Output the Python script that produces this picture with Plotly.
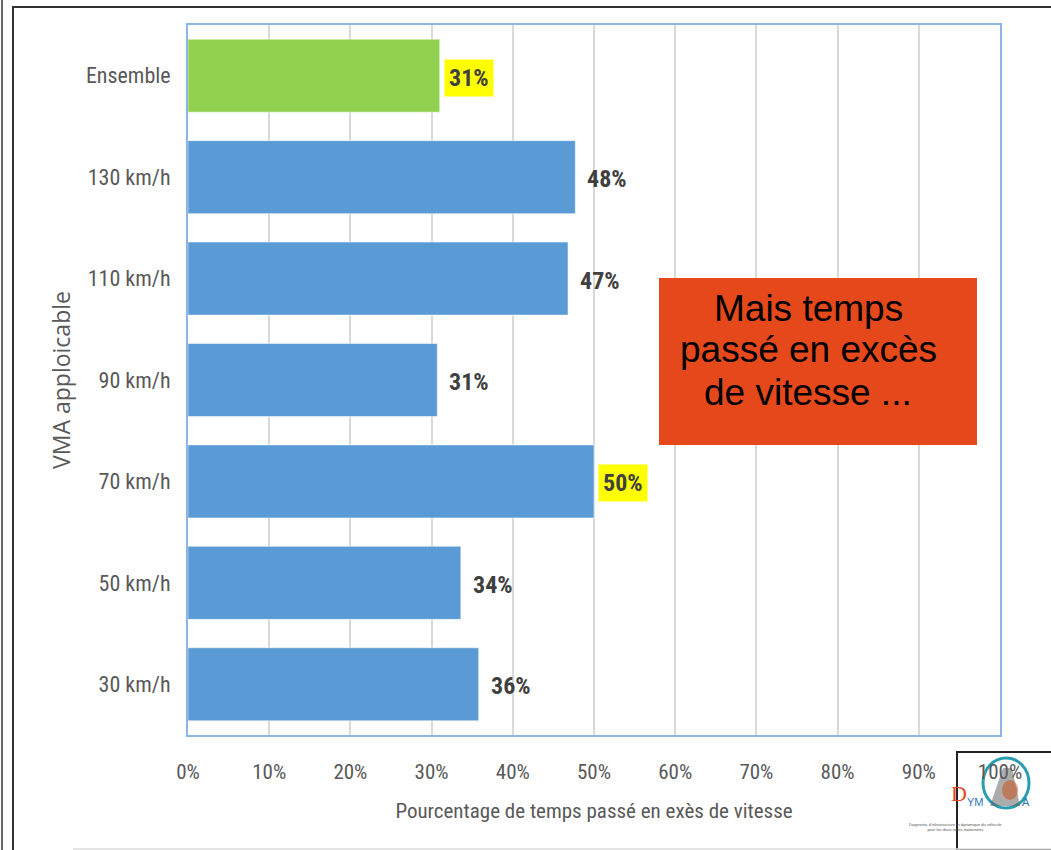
import plotly.graph_objects as go

categories = ["Ensemble", "130 km/h", "110 km/h", "90 km/h", "70 km/h", "50 km/h", "30 km/h"]
values = [31.0, 47.7, 46.8, 30.7, 50.0, 33.6, 35.8]
highlight = [True, False, False, False, True, False, False]
bar_colors = ["#92D050", "#5B9BD5", "#5B9BD5", "#5B9BD5", "#5B9BD5", "#5B9BD5", "#5B9BD5"]
x_ticks = [0, 10, 20, 30, 40, 50, 60, 70, 80, 90, 100]
x_ticklabels = [f"{t}%" for t in x_ticks]
box_lines = ["Mais temps", "passé en excès", "de vitesse ..."]

W, H = 1051, 850
L, R, T, B = 188, 51, 25, 115
PW, PH = W - L - R, H - T - B

def px(x):
    return (x - L) / PW

def py(y):
    return (H - B - y) / PH

NARROW = "Liberation Sans Narrow, Roboto Condensed, Arial Narrow, sans-serif"

fig = go.Figure()
fig.add_trace(go.Bar(
    y=categories, x=values, orientation="h",
    marker=dict(color=bar_colors, line=dict(color="#FFFFFF", width=0.5)),
    width=0.72, hoverinfo="x+y",
))

annotations = []
for c, v, h in zip(categories, values, highlight):
    annotations.append(dict(
        x=v, y=c, xref="x", yref="y", text=f"<b>{round(v)}%</b>",
        showarrow=False, xanchor="left", xshift=4 if h else 7, yshift=-2,
        font=dict(family=NARROW, size=24, color="#404040"),
        bgcolor="#FFFF00" if h else "rgba(0,0,0,0)", borderpad=4,
    ))

for i, line in enumerate(box_lines):
    annotations.append(dict(
        x=px(808), y=py(308 + 42 * i), xref="paper", yref="paper",
        text=line, showarrow=False, xanchor="center", yanchor="middle",
        font=dict(family="Liberation Sans, Arial, sans-serif", size=37, color="#000000"),
    ))

# logo texts
annotations += [
    dict(x=px(969), y=py(808), xref="paper", yref="paper", text="D", showarrow=False,
         font=dict(family="Liberation Serif, serif", size=22, color="#E4481B")),
    dict(x=px(986), y=py(810), xref="paper", yref="paper", text="YM", showarrow=False,
         font=dict(family="Liberation Sans, sans-serif", size=11, color="#2E75B6")),
    dict(x=px(1032), y=py(810), xref="paper", yref="paper", text="A", showarrow=False,
         font=dict(family="Liberation Sans, sans-serif", size=11, color="#2E75B6")),
    dict(x=px(1004), y=py(834), xref="paper", yref="paper",
         text="Diagnostic d'infrastructure et dynamique du véhicule<br>pour les deux roues motorisées",
         showarrow=False, font=dict(family="Liberation Sans, sans-serif", size=4, color="#555555")),
]

shapes = [
    # orange box
    dict(type="rect", xref="paper", yref="paper", x0=px(659), x1=px(977), y0=py(445), y1=py(278),
         fillcolor="#E4481B", line=dict(width=0), layer="above"),
    # outer frame
    dict(type="rect", xref="paper", yref="paper", x0=px(13), x1=px(1070), y0=py(870), y1=py(7),
         line=dict(color="#333333", width=2), fillcolor="rgba(0,0,0,0)", layer="below"),
    dict(type="line", xref="paper", yref="paper", x0=px(2), x1=px(2), y0=py(0), y1=py(850),
         line=dict(color="#333333", width=1.5)),
    dict(type="line", xref="paper", yref="paper", x0=px(73), x1=px(1051), y0=py(849), y1=py(849),
         line=dict(color="#DDDDDD", width=1.5)),
    # logo
    dict(type="rect", xref="paper", yref="paper", x0=px(957), x1=px(1052), y0=py(850), y1=py(752),
         line=dict(color="#222222", width=2), fillcolor="#FFFFFF", layer="below"),
    dict(type="circle", xref="paper", yref="paper", x0=px(983), x1=px(1029), y0=py(808), y1=py(758),
         line=dict(color="#2A9DB0", width=3), fillcolor="rgba(255,255,255,0)", layer="below"),
    dict(type="path", xref="paper", yref="paper",
         path=f"M {px(990)} {py(806)} L {px(1003)} {py(768)} L {px(1012)} {py(768)} L {px(1020)} {py(806)} Z",
         fillcolor="rgba(90,90,90,0.5)", line=dict(width=0), layer="below"),
    dict(type="circle", xref="paper", yref="paper", x0=px(1002), x1=px(1018), y0=py(800), y1=py(780),
         line=dict(width=0), fillcolor="rgba(200,90,40,0.6)", layer="below"),
]

fig.update_layout(
    width=W, height=H,
    margin=dict(l=L, r=R, t=T, b=B, autoexpand=False),
    paper_bgcolor="#FFFFFF", plot_bgcolor="#FFFFFF",
    showlegend=False, bargap=0.28,
    annotations=annotations, shapes=shapes,
    xaxis=dict(
        range=[0, 100], tickvals=x_ticks, ticktext=x_ticklabels,
        showgrid=True, gridcolor="#D9D9D9", gridwidth=1.5,
        showline=True, linecolor="#8DB4E2", linewidth=2, mirror=True,
        zeroline=False, ticks="", ticklabelstandoff=17,
        tickfont=dict(family=NARROW, size=21, color="#595959"),
        title=dict(text="Pourcentage de temps passé en exès de vitesse",
                   font=dict(family=NARROW, size=21, color="#595959"), standoff=20),
    ),
    yaxis=dict(
        categoryorder="array", categoryarray=categories[::-1],
        range=[-0.5, 6.5], showgrid=False,
        showline=True, linecolor="#8DB4E2", linewidth=2, mirror=True,
        zeroline=False, ticks="", ticklabelstandoff=11,
        tickfont=dict(family=NARROW, size=22, color="#595959"),
        title=dict(text="VMA apploicable",
                   font=dict(family="Open Sans, Liberation Sans, sans-serif", size=23, color="#595959"),
                   standoff=9),
    ),
)

fig.write_html("out.html", post_script="document.body.style.margin='0';",
               config={"displayModeBar": False})
